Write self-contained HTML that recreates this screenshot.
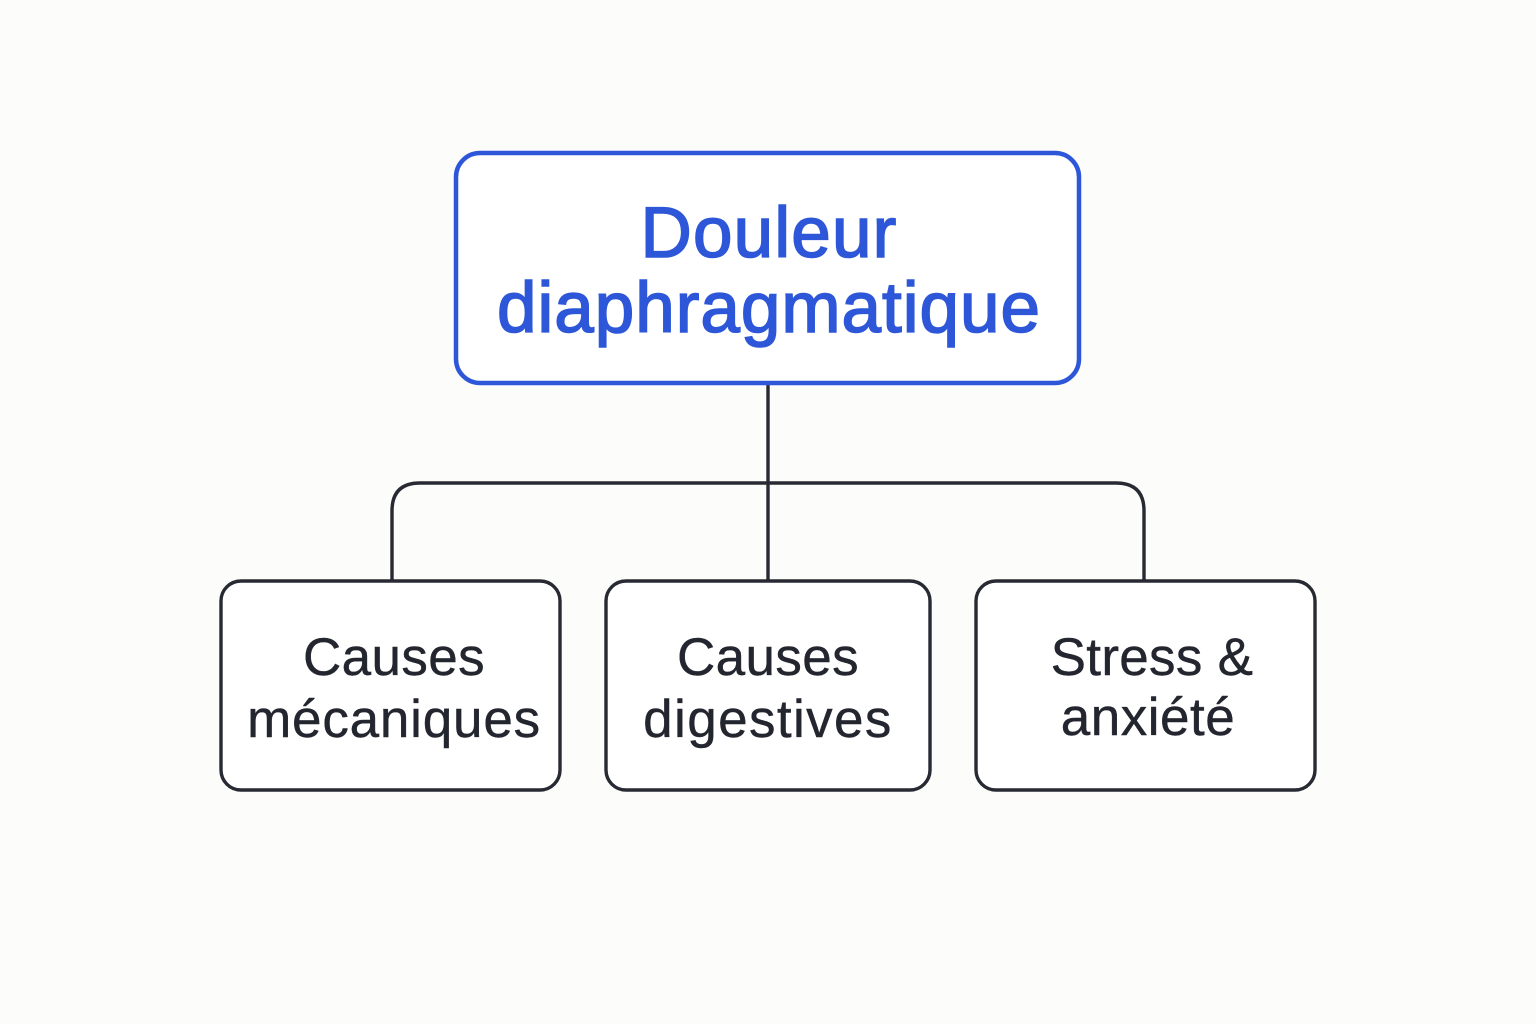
<!DOCTYPE html>
<html>
<head>
<meta charset="utf-8">
<style>
  html,body{margin:0;padding:0;background:#fcfcfa;}
  svg{display:block;}
  .t{font-family:"Liberation Sans",Arial,sans-serif;}
</style>
</head>
<body>
<svg width="1536" height="1024" viewBox="0 0 1536 1024" xmlns="http://www.w3.org/2000/svg">
  <rect x="0" y="0" width="1536" height="1024" fill="#fcfcfa"/>
  <!-- connectors -->
  <path d="M768 383 V581" stroke="#272a33" stroke-width="3.4" fill="none"/>
  <path d="M392 581 V511 Q392 483 420 483 H1116 Q1144 483 1144 511 V581" stroke="#272a33" stroke-width="3.4" fill="none"/>
  <!-- top box -->
  <rect x="456" y="153" width="623" height="230" rx="24" ry="24" fill="#ffffff" stroke="#2d57d8" stroke-width="4.5"/>
  <text class="t" x="769" y="257" text-anchor="middle" font-size="71" letter-spacing="1.2" fill="#2d57d8" stroke="#2d57d8" stroke-width="1.6">Douleur</text>
  <text class="t" x="769" y="332" text-anchor="middle" font-size="71" letter-spacing="1" fill="#2d57d8" stroke="#2d57d8" stroke-width="1.6">diaphragmatique</text>
  <!-- child boxes -->
  <rect x="221" y="581" width="339" height="209" rx="20" ry="20" fill="#ffffff" stroke="#272a33" stroke-width="3.4"/>
  <rect x="606" y="581" width="324" height="209" rx="20" ry="20" fill="#ffffff" stroke="#272a33" stroke-width="3.4"/>
  <rect x="976" y="581" width="339" height="209" rx="20" ry="20" fill="#ffffff" stroke="#272a33" stroke-width="3.4"/>
  <g class="t" font-size="53" fill="#23262f" text-anchor="middle" stroke="#23262f" stroke-width="0.4">
    <text x="394" y="675" letter-spacing="0.4">Causes</text>
    <text x="394" y="737" letter-spacing="0.8">mécaniques</text>
    <text x="768" y="675" letter-spacing="0.4">Causes</text>
    <text x="768" y="737" letter-spacing="1.4">digestives</text>
    <text x="1152" y="675" letter-spacing="0.3">Stress &amp;</text>
    <text x="1148" y="735" letter-spacing="0.5">anxiété</text>
  </g>
</svg>
</body>
</html>
